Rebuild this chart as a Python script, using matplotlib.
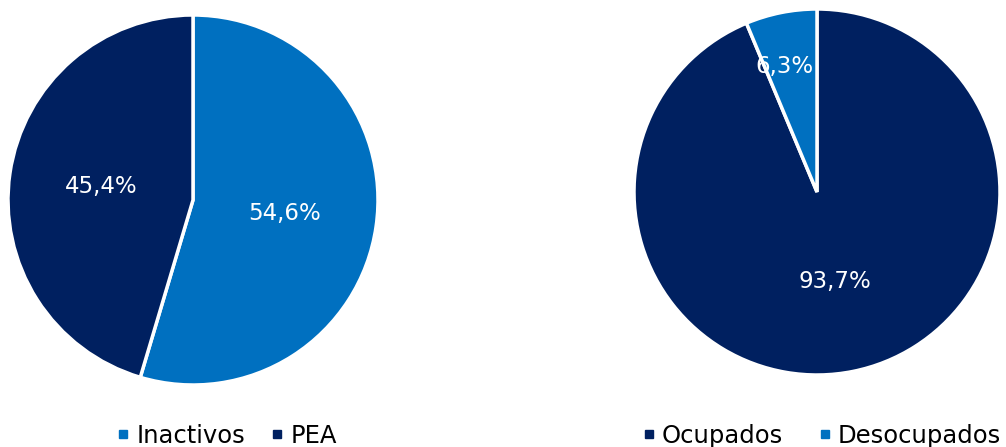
import numpy as np
import matplotlib.pyplot as plt
from matplotlib.lines import Line2D

plt.rcParams['font.family'] = ['DejaVu Sans']

dark = '#002060'
light = '#0070C0'

# left pie: poblacion
pob_labels = ['Inactivos', 'PEA']
pob_values = [54.6, 45.4]
pob_colors = [light, dark]

# right pie: PEA
pea_labels = ['Ocupados', 'Desocupados']
pea_values = [93.7, 6.3]
pea_colors = [dark, light]

fig = plt.figure(figsize=(10.06, 4.47), dpi=100)
ax1 = fig.add_axes([8/1006, 62/447, 370/1006, 370/447])
ax2 = fig.add_axes([634/1006, 72/447, 366/1006, 366/447])


def draw_pie(ax, values, colors, dists, shifts):
    wedges, _ = ax.pie(values, colors=colors, startangle=90, counterclock=False,
                       wedgeprops=dict(edgecolor='white', linewidth=2.5))
    for w, v, d, s in zip(wedges, values, dists, shifts):
        ang = np.deg2rad((w.theta1 + w.theta2) / 2)
        ax.annotate(f"{v:.1f}%".replace('.', ','), (d * np.cos(ang), d * np.sin(ang)),
                    xytext=(s, 0), textcoords='offset points',
                    ha='center', va='center', color='white', fontsize=16.5)
    ax.set_xlim(-1, 1)
    ax.set_ylim(-1, 1)
    ax.set_aspect('equal')
    ax.axis('off')


draw_pie(ax1, pob_values, pob_colors, [0.5, 0.5], [0, 0])
draw_pie(ax2, pea_values, pea_colors, [0.5, 0.70], [0, -5])


def legend_handles(labels, colors):
    return [Line2D([], [], marker='s', linestyle='none', markersize=6,
                   markerfacecolor=c, markeredgecolor=c, label=l)
            for l, c in zip(labels, colors)]


fig.legend(handles=legend_handles(pob_labels, pob_colors), loc='center',
           bbox_to_anchor=(225/1006, 1 - 436/447), ncol=2, frameon=False,
           fontsize=17.5, handletextpad=0.15, columnspacing=0.9, handlelength=0.8)
fig.legend(handles=legend_handles(pea_labels, pea_colors), loc='center',
           bbox_to_anchor=(820/1006, 1 - 436/447), ncol=2, frameon=False,
           fontsize=17.5, handletextpad=0.15, columnspacing=1.3, handlelength=0.8)

fig.savefig('out.png', dpi=100)
